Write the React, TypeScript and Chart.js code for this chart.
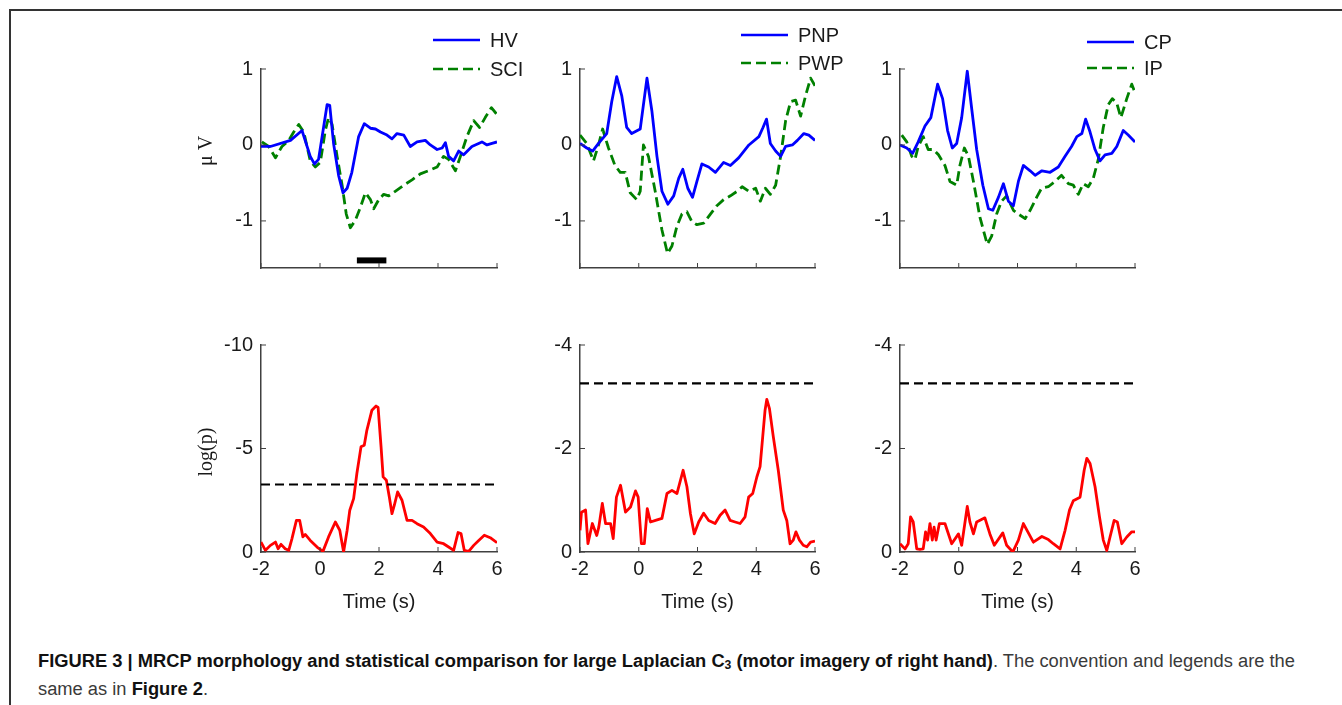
import React, { useEffect, useLayoutEffect, useRef, useState } from "react";
import { Chart, registerables, ChartConfiguration, Plugin } from "chart.js";

Chart.register(...registerables);

// ---- tick labels ----
const timeTicks = [-2, 0, 2, 4, 6];
const mrcpTicks = [-1, 0, 1];
const hvLogTicks = [-10, -5, 0];
const pLogTicks = [-4, -2, 0];

// ---- top row: MRCP amplitude (µV) ----
const hvT = [-2, -1.68, -1.0, -0.61, -0.33, -0.19, -0.05, 0.12, 0.24, 0.33, 0.46, 0.63, 0.78, 0.92, 1.08, 1.31, 1.5, 1.71, 1.88, 2.05, 2.27, 2.44, 2.61, 2.84, 3.06, 3.29, 3.57, 3.74, 3.97, 4.14, 4.25, 4.36, 4.53, 4.7, 4.87, 5.15, 5.49, 5.66, 5.83, 6.0];
const hvV = [-0.02, -0.02, 0.06, 0.19, -0.15, -0.25, -0.19, 0.23, 0.53, 0.52, 0.02, -0.4, -0.63, -0.57, -0.36, 0.11, 0.28, 0.22, 0.21, 0.17, 0.13, 0.08, 0.15, 0.13, -0.02, 0.04, 0.06, 0.0, -0.06, -0.04, 0.03, -0.15, -0.21, -0.08, -0.13, -0.02, 0.04, 0.0, 0.02, 0.04];

const sciT = [-1.97, -1.74, -1.51, -1.29, -1.06, -0.89, -0.72, -0.55, -0.33, -0.16, 0.01, 0.18, 0.29, 0.41, 0.58, 0.75, 0.89, 1.03, 1.2, 1.37, 1.54, 1.71, 1.82, 1.99, 2.16, 2.33, 2.55, 2.84, 3.12, 3.4, 3.68, 3.97, 4.19, 4.36, 4.59, 4.76, 4.98, 5.21, 5.41, 5.6, 5.81, 6.0];
const sciV = [0.04, -0.02, -0.17, -0.02, 0.06, 0.17, 0.27, 0.17, -0.21, -0.29, -0.23, 0.19, 0.36, 0.27, -0.15, -0.53, -0.91, -1.09, -0.99, -0.82, -0.63, -0.72, -0.84, -0.72, -0.65, -0.67, -0.61, -0.53, -0.46, -0.38, -0.34, -0.29, -0.15, -0.19, -0.34, -0.15, 0.11, 0.32, 0.23, 0.36, 0.49, 0.4];

// significant interval bar under HV/SCI
const sigBarT = [1.25, 2.25];
const sigBarV = [-1.52, -1.52];

const pnpT = [-2, -1.77, -1.57, -1.37, -1.09, -0.92, -0.75, -0.58, -0.41, -0.24, 0.05, 0.28, 0.45, 0.62, 0.79, 0.99, 1.19, 1.36, 1.5, 1.67, 1.83, 1.98, 2.15, 2.38, 2.61, 2.89, 3.12, 3.4, 3.75, 4.09, 4.23, 4.35, 4.48, 4.66, 4.83, 5.0, 5.23, 5.4, 5.62, 5.79, 6.0];
const pnpV = [0.02, -0.04, -0.08, 0.02, 0.15, 0.57, 0.9, 0.65, 0.23, 0.15, 0.21, 0.88, 0.44, -0.15, -0.61, -0.78, -0.67, -0.44, -0.32, -0.57, -0.69, -0.48, -0.25, -0.29, -0.36, -0.23, -0.27, -0.17, 0.0, 0.11, 0.23, 0.34, 0.02, -0.08, -0.15, -0.02, 0.0, 0.06, 0.15, 0.13, 0.06];

const pwpT = [-2, -1.77, -1.54, -1.37, -1.23, -1.03, -0.81, -0.63, -0.46, -0.29, -0.07, 0.05, 0.16, 0.33, 0.56, 0.79, 0.98, 1.13, 1.3, 1.47, 1.64, 1.81, 1.98, 2.21, 2.44, 2.66, 2.89, 3.12, 3.35, 3.52, 3.75, 3.98, 4.14, 4.31, 4.48, 4.66, 4.83, 5.0, 5.17, 5.34, 5.51, 5.68, 5.85, 6.0];
const pwpV = [0.13, 0.02, -0.21, 0.0, 0.21, -0.04, -0.27, -0.36, -0.36, -0.63, -0.72, -0.61, 0.0, -0.15, -0.61, -1.12, -1.43, -1.33, -1.07, -0.91, -0.88, -1.01, -1.05, -1.03, -0.91, -0.8, -0.72, -0.67, -0.61, -0.55, -0.61, -0.57, -0.74, -0.57, -0.65, -0.53, -0.15, 0.32, 0.57, 0.59, 0.38, 0.65, 0.88, 0.78];

const cpT = [-2, -1.77, -1.57, -1.38, -1.15, -0.95, -0.72, -0.55, -0.38, -0.22, -0.07, 0.1, 0.29, 0.44, 0.61, 0.82, 1.01, 1.16, 1.35, 1.52, 1.69, 1.86, 2.03, 2.2, 2.43, 2.6, 2.83, 3.11, 3.39, 3.62, 3.84, 4.02, 4.19, 4.32, 4.47, 4.64, 4.81, 4.98, 5.21, 5.38, 5.6, 5.77, 6.0];
const cpV = [0.0, -0.04, -0.11, 0.04, 0.25, 0.36, 0.8, 0.61, 0.19, -0.04, 0.02, 0.36, 0.97, 0.48, -0.06, -0.53, -0.84, -0.86, -0.69, -0.51, -0.74, -0.8, -0.48, -0.27, -0.34, -0.4, -0.34, -0.36, -0.29, -0.15, -0.02, 0.11, 0.15, 0.34, 0.17, -0.06, -0.21, -0.13, -0.11, -0.02, 0.19, 0.13, 0.04];

const ipT = [-1.94, -1.77, -1.6, -1.49, -1.38, -1.21, -1.04, -0.86, -0.69, -0.47, -0.3, -0.07, 0.04, 0.19, 0.33, 0.5, 0.72, 0.97, 1.12, 1.29, 1.46, 1.63, 1.86, 2.03, 2.26, 2.43, 2.65, 2.82, 3.05, 3.28, 3.5, 3.73, 3.9, 4.07, 4.24, 4.41, 4.58, 4.75, 4.92, 5.09, 5.23, 5.38, 5.52, 5.72, 5.89, 6.0];
const ipV = [0.13, 0.04, -0.15, -0.19, -0.02, 0.11, -0.06, -0.06, -0.13, -0.27, -0.48, -0.53, -0.27, -0.04, -0.15, -0.48, -0.95, -1.31, -1.2, -0.91, -0.74, -0.67, -0.86, -0.91, -0.97, -0.86, -0.69, -0.57, -0.55, -0.48, -0.4, -0.51, -0.53, -0.65, -0.51, -0.55, -0.44, -0.19, 0.23, 0.53, 0.61, 0.55, 0.36, 0.61, 0.8, 0.69];

// ---- bottom row: log(p) ----
const hvSciPT = [-2, -1.85, -1.68, -1.51, -1.42, -1.32, -1.18, -1.06, -0.95, -0.8, -0.69, -0.58, -0.5, -0.33, -0.1, 0.1, 0.29, 0.52, 0.67, 0.8, 0.92, 1.01, 1.14, 1.25, 1.39, 1.5, 1.59, 1.76, 1.9, 1.97, 2.07, 2.14, 2.25, 2.35, 2.44, 2.52, 2.63, 2.78, 2.95, 3.12, 3.29, 3.51, 3.74, 3.97, 4.19, 4.36, 4.53, 4.68, 4.78, 4.89, 5.04, 5.21, 5.38, 5.57, 5.77, 6.0];
const hvSciPV = [-0.48, -0.08, -0.32, -0.48, -0.16, -0.37, -0.16, -0.08, -0.65, -1.53, -1.53, -0.73, -0.85, -0.56, -0.24, -0.03, -0.73, -1.45, -1.05, 0.0, -1.05, -2.02, -2.58, -3.79, -5.08, -5.16, -5.89, -6.85, -7.05, -6.98, -5.08, -3.63, -3.47, -2.66, -1.85, -2.26, -2.9, -2.5, -1.53, -1.53, -1.37, -1.21, -0.89, -0.48, -0.4, -0.24, -0.08, -0.94, -0.89, -0.08, -0.03, -0.32, -0.56, -0.81, -0.69, -0.45];

const pnpPwpPT = [-2, -1.95, -1.81, -1.73, -1.58, -1.43, -1.36, -1.24, -1.13, -0.96, -0.87, -0.76, -0.62, -0.45, -0.28, -0.11, -0.02, 0.09, 0.19, 0.29, 0.4, 0.57, 0.79, 0.96, 1.13, 1.3, 1.51, 1.64, 1.76, 1.89, 2.04, 2.21, 2.38, 2.6, 2.77, 2.94, 3.11, 3.28, 3.45, 3.62, 3.74, 3.88, 4.02, 4.13, 4.21, 4.3, 4.36, 4.45, 4.58, 4.75, 4.92, 5.04, 5.15, 5.26, 5.35, 5.47, 5.6, 5.72, 5.85, 6.0];
const pnpPwpPV = [-0.42, -0.77, -0.81, -0.16, -0.55, -0.32, -0.48, -0.94, -0.55, -0.55, -0.26, -1.06, -1.29, -0.77, -0.87, -1.18, -1.06, -0.16, -0.16, -0.84, -0.58, -0.61, -0.65, -1.13, -1.19, -1.13, -1.58, -1.26, -0.74, -0.35, -0.58, -0.75, -0.61, -0.55, -0.71, -0.81, -0.61, -0.58, -0.55, -0.68, -1.06, -1.13, -1.45, -1.65, -2.16, -2.74, -2.95, -2.77, -2.23, -1.58, -0.81, -0.61, -0.16, -0.23, -0.39, -0.23, -0.13, -0.1, -0.19, -0.21];

const cpIpPT = [-2, -1.83, -1.72, -1.64, -1.55, -1.43, -1.32, -1.21, -1.13, -1.06, -0.98, -0.9, -0.84, -0.77, -0.66, -0.47, -0.24, -0.01, 0.1, 0.29, 0.38, 0.5, 0.61, 0.89, 1.06, 1.21, 1.5, 1.63, 1.84, 2.03, 2.2, 2.37, 2.54, 2.83, 3.05, 3.22, 3.45, 3.62, 3.77, 3.9, 4.13, 4.27, 4.36, 4.47, 4.64, 4.79, 4.92, 5.04, 5.15, 5.29, 5.4, 5.55, 5.72, 5.89, 6.0];
const cpIpPV = [-0.16, -0.06, -0.16, -0.68, -0.58, -0.06, -0.05, -0.06, -0.39, -0.23, -0.55, -0.23, -0.48, -0.23, -0.55, -0.55, -0.16, -0.35, -0.13, -0.88, -0.58, -0.35, -0.58, -0.66, -0.35, -0.13, -0.37, -0.13, 0.0, -0.23, -0.55, -0.37, -0.19, -0.3, -0.24, -0.16, -0.06, -0.42, -0.81, -0.99, -1.06, -1.58, -1.81, -1.71, -1.26, -0.68, -0.23, -0.03, -0.29, -0.61, -0.58, -0.16, -0.29, -0.39, -0.39];

// significance threshold
const thrT = [-2, 6];
const thrV = [-3.26, -3.26];

const BLUE = "#0000ff";
const GREEN = "#008000";
const RED = "#ff0000";
const INK = "#1a1a1a";
const AXIS = "#404040";
const SANS = "'Liberation Sans', Arial, Helvetica, sans-serif";
const SERIF = "'Liberation Serif', 'Times New Roman', serif";
const LINE_W = 2.8;

interface Series {
  label?: string;
  t: number[];
  v: number[];
  color: string;
  dash?: number[];
  width?: number;
}

interface PanelProps {
  plotLeft: number;
  plotTop: number;
  plotW: number;
  plotH: number;
  yMin: number;
  yMax: number;
  yTicks: number[];
  reverse?: boolean;
  bottomRow: boolean;
  series: Series[];
  legendDx?: number; // line start, relative to plot right edge
  legendRows?: number[]; // row centres, relative to plot top
}

const PAD_L = 80;
const PAD_T = 50;
const PAD_R = 60;

const Panel: React.FC<PanelProps> = (p) => {
  const chartRef = useRef<HTMLCanvasElement | null>(null);
  const xAxisH = p.bottomRow ? 62 : 12;
  const w = PAD_L + p.plotW + PAD_R;
  const h = PAD_T + p.plotH + xAxisH;

  useEffect(() => {
    const ctx = chartRef.current?.getContext("2d");
    if (!ctx) return;

    // MATLAB style ticks pointing into the axes
    const inwardTicks: Plugin = {
      id: "inwardTicks",
      afterDraw(chart) {
        const { ctx: c, chartArea: a, scales } = chart;
        c.save();
        c.strokeStyle = AXIS;
        c.lineWidth = 1;
        timeTicks.forEach((t) => {
          const x = scales.x.getPixelForValue(t);
          c.beginPath();
          c.moveTo(x, a.bottom);
          c.lineTo(x, a.bottom - 5);
          c.stroke();
        });
        p.yTicks.forEach((v) => {
          const y = scales.y.getPixelForValue(v);
          c.beginPath();
          c.moveTo(a.left, y);
          c.lineTo(a.left + 5, y);
          c.stroke();
        });
        c.restore();
      },
    };

    const sideLegend: Plugin = {
      id: "sideLegend",
      afterDraw(chart) {
        if (p.legendDx === undefined || !p.legendRows) return;
        const { ctx: c, chartArea: a } = chart;
        let row = 0;
        chart.data.datasets.forEach((ds: any) => {
          if (!ds.label) return;
          const y = a.top + p.legendRows![row++];
          const x0 = a.right + p.legendDx!;
          c.save();
          c.strokeStyle = ds.borderColor;
          c.lineWidth = 2.4;
          c.setLineDash(ds.borderDash || []);
          c.beginPath();
          c.moveTo(x0, y);
          c.lineTo(x0 + 47, y);
          c.stroke();
          c.setLineDash([]);
          c.fillStyle = INK;
          c.font = `20px ${SANS}`;
          c.textBaseline = "middle";
          c.fillText(ds.label, x0 + 57, y + 1);
          c.restore();
        });
      },
    };

    const chart = new Chart(ctx, {
      type: "line",
      data: {
        datasets: p.series.map((s) => ({
          label: s.label ?? "",
          data: s.t.map((t, i) => ({ x: t, y: s.v[i] })),
          borderColor: s.color,
          borderWidth: s.width ?? LINE_W,
          borderDash: s.dash ?? [],
          borderCapStyle: "butt",
          borderJoinStyle: "round",
          pointRadius: 0,
          tension: 0,
          fill: false,
        })),
      },
      options: {
        responsive: false,
        animation: false,
        layout: { padding: { top: PAD_T, right: PAD_R, left: 0, bottom: 0 } },
        plugins: {
          legend: { display: false },
          tooltip: { enabled: false },
        },
        scales: {
          x: {
            type: "linear",
            min: -2,
            max: 6,
            afterBuildTicks: (s: any) => {
              s.ticks = timeTicks.map((v) => ({ value: v }));
            },
            afterFit: (s: any) => {
              s.height = xAxisH;
            },
            grid: { display: true, drawOnChartArea: false, drawTicks: false },
            border: { color: AXIS, width: 1.5 },
            ticks: {
              display: p.bottomRow,
              padding: 5,
              color: INK,
              font: { size: 20, family: SANS },
            },
            title: {
              display: p.bottomRow,
              text: "Time (s)",
              color: INK,
              padding: { top: 2, bottom: 0 },
              font: { size: 20, family: SANS },
            },
          },
          y: {
            type: "linear",
            min: p.yMin,
            max: p.yMax,
            reverse: !!p.reverse,
            afterBuildTicks: (s: any) => {
              s.ticks = p.yTicks.map((v) => ({ value: v }));
            },
            afterFit: (s: any) => {
              s.width = PAD_L;
            },
            grid: { display: true, drawOnChartArea: false, drawTicks: false },
            border: { color: AXIS, width: 1.5 },
            ticks: {
              padding: 8,
              color: INK,
              font: { size: 20, family: SANS },
            },
          },
        },
      },
      plugins: [inwardTicks, sideLegend],
    } as ChartConfiguration);

    return () => {
      chart.destroy();
    };
  }, []);

  return (
    <canvas
      ref={chartRef}
      width={w}
      height={h}
      style={{
        position: "absolute",
        left: p.plotLeft - PAD_L,
        top: p.plotTop - PAD_T,
        width: w,
        height: h,
      }}
    />
  );
};

const colLeft = [261, 580, 900];
const colW = [236, 235, 235];
const TOP_Y = 69;
const BOT_Y = 345;
const PLOT_H = 207;

const yTitle = (text: string, x: number, y: number) => (
  <div
    style={{
      position: "absolute",
      left: x,
      top: y,
      transform: "translate(-50%, -50%) rotate(-90deg)",
      fontFamily: SERIF,
      fontSize: 20,
      color: INK,
      whiteSpace: "nowrap",
    }}
  >
    {text}
  </div>
);

// caption set in a narrow face: squeeze the first line to its width in the figure
const CAPTION_W = 1257;

const Caption: React.FC = () => {
  const lineRef = useRef<HTMLSpanElement | null>(null);
  const [sx, setSx] = useState(1);
  useLayoutEffect(() => {
    if (lineRef.current) setSx(CAPTION_W / lineRef.current.getBoundingClientRect().width);
  }, []);
  const bold = { color: "#111", fontWeight: 700 };
  return (
    <div
      style={{
        position: "absolute",
        left: 38,
        top: 649,
        fontFamily: SANS,
        fontSize: 18,
        lineHeight: "24px",
        color: "#3a3a3a",
        whiteSpace: "nowrap",
        transform: `scaleX(${sx})`,
        transformOrigin: "0 0",
      }}
    >
      <div>
        <span ref={lineRef}>
          <span style={bold}>
            FIGURE 3 | MRCP morphology and statistical comparison for large Laplacian C
            <sub style={{ fontSize: 12, verticalAlign: "-2px" }}>3</sub> (motor imagery of right hand)
          </span>
          . The convention and legends are the
        </span>
      </div>
      <div>
        same as in <span style={bold}>Figure 2</span>.
      </div>
    </div>
  );
};

const App: React.FC = () => {
  const top = { plotTop: TOP_Y, plotH: PLOT_H, yMin: -1.62, yMax: 1, yTicks: mrcpTicks, bottomRow: false };
  const bot = { plotTop: BOT_Y, plotH: PLOT_H, yMax: 0, reverse: true, bottomRow: true };
  return (
    <div
      style={{
        position: "absolute",
        left: 0,
        top: 0,
        width: 1342,
        height: 705,
        overflow: "hidden",
        background: "#fff",
      }}
    >
      <div
        style={{
          position: "absolute",
          left: 9,
          top: 9,
          width: 1400,
          height: 800,
          borderTop: "2px solid #333",
          borderLeft: "2px solid #333",
        }}
      />

      <Panel
        {...top}
        plotLeft={colLeft[0]}
        plotW={colW[0]}
        legendDx={-64}
        legendRows={[-29, 0]}
        series={[
          { label: "HV", t: hvT, v: hvV, color: BLUE },
          { label: "SCI", t: sciT, v: sciV, color: GREEN, dash: [10, 5] },
          { t: sigBarT, v: sigBarV, color: "#000", width: 6 },
        ]}
      />
      <Panel
        {...top}
        plotLeft={colLeft[1]}
        plotW={colW[1]}
        legendDx={-74}
        legendRows={[-34, -6]}
        series={[
          { label: "PNP", t: pnpT, v: pnpV, color: BLUE },
          { label: "PWP", t: pwpT, v: pwpV, color: GREEN, dash: [10, 5] },
        ]}
      />
      <Panel
        {...top}
        plotLeft={colLeft[2]}
        plotW={colW[2]}
        legendDx={-48}
        legendRows={[-27, -1]}
        series={[
          { label: "CP", t: cpT, v: cpV, color: BLUE },
          { label: "IP", t: ipT, v: ipV, color: GREEN, dash: [10, 5] },
        ]}
      />

      <Panel
        {...bot}
        plotLeft={colLeft[0]}
        plotW={colW[0]}
        yMin={-10}
        yTicks={hvLogTicks}
        series={[
          { t: thrT, v: thrV, color: "#000", dash: [9, 5], width: 2.2 },
          { t: hvSciPT, v: hvSciPV, color: RED },
        ]}
      />
      <Panel
        {...bot}
        plotLeft={colLeft[1]}
        plotW={colW[1]}
        yMin={-4}
        yTicks={pLogTicks}
        series={[
          { t: thrT, v: thrV, color: "#000", dash: [9, 5], width: 2.2 },
          { t: pnpPwpPT, v: pnpPwpPV, color: RED },
        ]}
      />
      <Panel
        {...bot}
        plotLeft={colLeft[2]}
        plotW={colW[2]}
        yMin={-4}
        yTicks={pLogTicks}
        series={[
          { t: thrT, v: thrV, color: "#000", dash: [9, 5], width: 2.2 },
          { t: cpIpPT, v: cpIpPV, color: RED },
        ]}
      />

      {yTitle("μ V", 205, 151)}
      {yTitle("log(p)", 205, 452)}

      <Caption />
    </div>
  );
};

export default App;
